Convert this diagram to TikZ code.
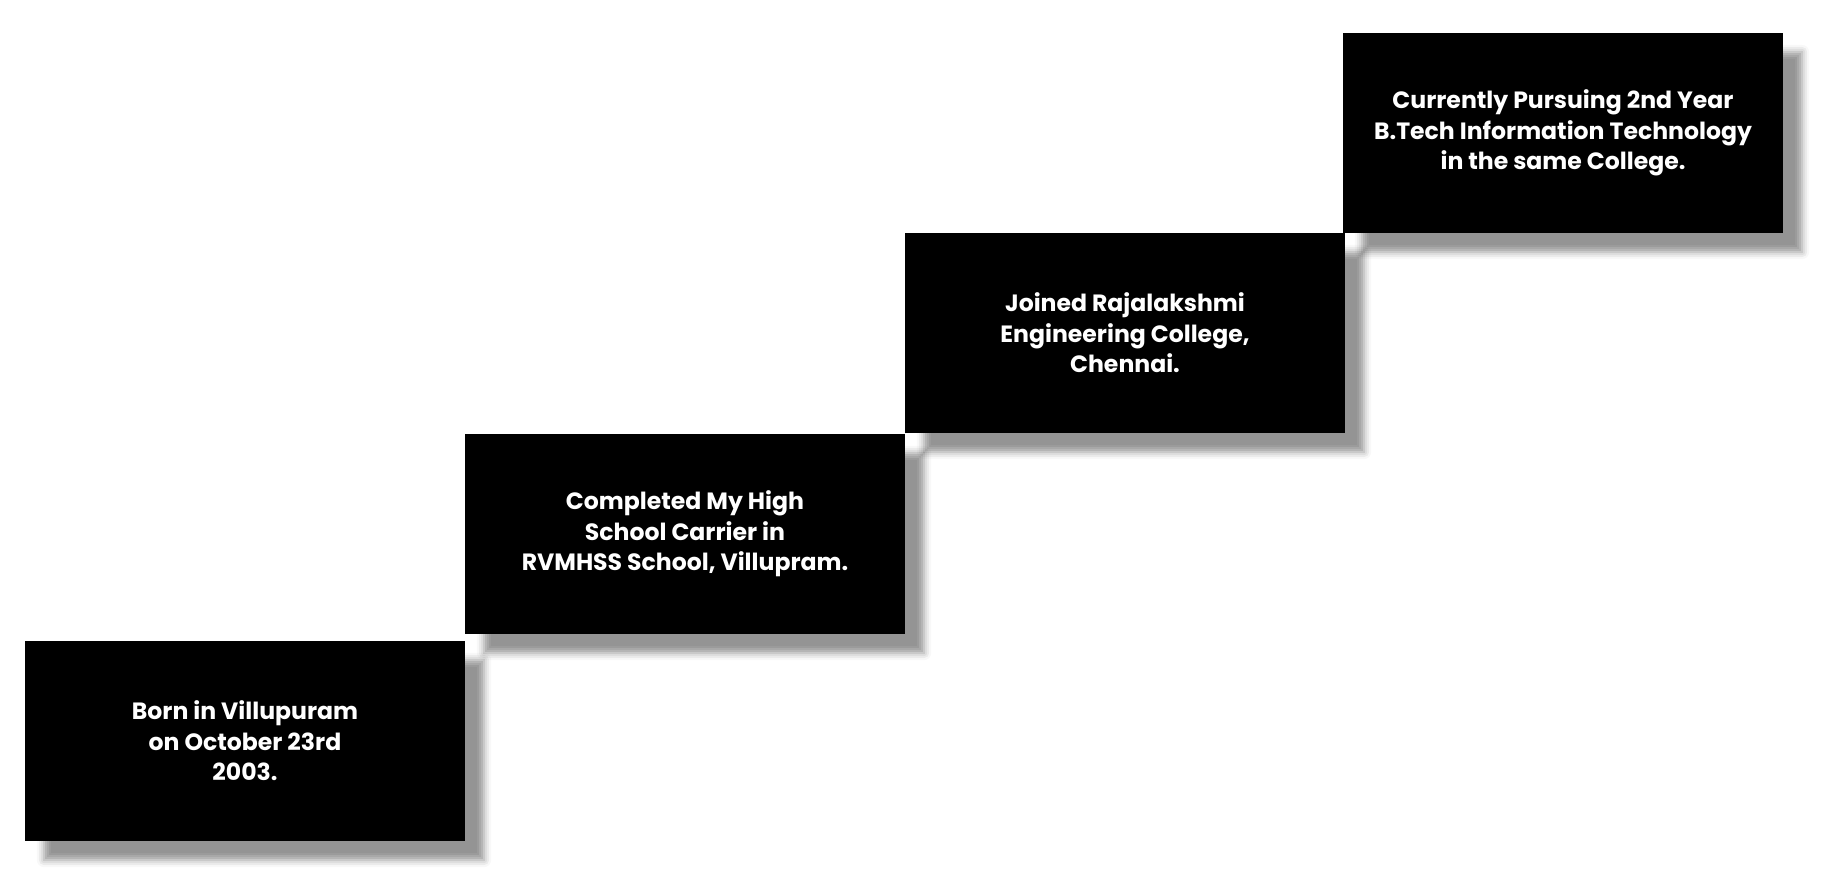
\documentclass[tikz,border=0pt]{standalone}
\usepackage{fontspec}
\setmainfont{Poppins}
\usetikzlibrary{shadows.blur}

\tikzset{
  stepbox/.style={rectangle,fill=black,text=white,inner sep=0pt,
    minimum width=4.4cm,minimum height=2cm,align=center,
    font=\fontsize{6.7}{8.7}\selectfont\bfseries,
    blur shadow={shadow xshift=0.19cm,shadow yshift=-0.19cm,
      shadow blur radius=0.07cm,shadow opacity=42}}
}

\begin{document}
\begin{tikzpicture}[x=0.01cm,y=-0.01cm]
    \useasboundingbox (0,0) rectangle (1827,883);

    \foreach \i/\x/\y/\txt in {
        1/245/741/{Born in Villupuram\\ on October 23rd\\ 2003.},
        2/685/534/{Completed My High\\ School Carrier in\\ RVMHSS School, Villupram.},
        3/1125/333/{Joined Rajalakshmi\\ Engineering College,\\ Chennai.},
        4/1563/133/{Currently Pursuing 2nd Year\\ B.Tech Information Technology\\ in the same College.}}{
        \node[stepbox] (event\i) at (\x,\y) {\txt};
    }

\end{tikzpicture}
\end{document}
